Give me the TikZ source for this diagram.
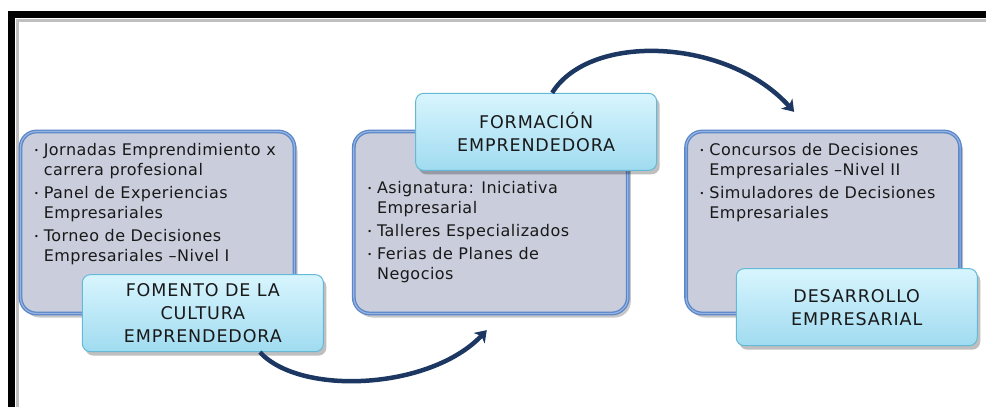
\documentclass[tikz,border=0pt]{standalone}
\usepackage{fontspec}
\setmainfont{DejaVu Sans}
\newfontfamily\listfont{DejaVu Sans}[LetterSpace=3]
\newfontfamily\headfont{DejaVu Sans}[LetterSpace=5]
\usepackage{xcolor}
\usetikzlibrary{positioning,shadows,arrows.meta}

\definecolor{areafill}{RGB}{202,206,220}
\definecolor{areaedge}{RGB}{90,134,200}
\definecolor{areainner}{RGB}{150,180,225}
\definecolor{titletop}{RGB}{216,245,254}
\definecolor{titlebot}{RGB}{160,219,240}
\definecolor{titleedge}{RGB}{100,185,215}
\definecolor{flowblue}{RGB}{28,55,98}

\newcommand{\itm}{\raisebox{1.8pt}{\fontsize{8}{8}\selectfont\textbullet}}

\begin{document}
\begin{tikzpicture}[x=1pt, y=-1pt,
    area/.style={rectangle, rounded corners=16pt, minimum width=274pt, minimum height=182pt, fill=areafill, draw=areaedge, line width=1.3pt, double=areainner, double distance=1.2pt, drop shadow={shadow xshift=3pt, shadow yshift=-4pt, fill=black, opacity=0.22}},
    title/.style={rectangle, rounded corners=8pt, minimum width=241pt, minimum height=77pt, top color=titletop, bottom color=titlebot, draw=titleedge, line width=1pt, align=center, text=black!90, font=\headfont\fontsize{17.5}{23}\selectfont, drop shadow={shadow xshift=3pt, shadow yshift=-4pt, fill=black, opacity=0.25}},
    items/.style={inner sep=0pt, anchor=north west, text=black!90, font=\listfont\fontsize{16}{20}\selectfont},
    flow/.style={line width=4.5pt, draw=flowblue, -{Stealth[length=11pt, width=15pt, inset=3pt]}}]
    \useasboundingbox (0,0) rectangle (986,407);

    % Frame
    \draw[black!25, line width=3pt] (986,20) -- (17,20) -- (17,407);
    \draw[line width=7pt] (986,14.5) -- (11.5,14.5) -- (11.5,407);

    % Areas
    \node[area] (fom) at (157.5,222.5) {};
    \node[area, right=58pt of fom] (form) {};
    \node[area, right=57pt of form] (des) {};

    % Lists
    \node[items] (fomlist) at ([xshift=14pt,yshift=-10pt]fom.north west) {\begin{tabular}{@{}l@{\hspace{5pt}}l@{}}
        \itm & Jornadas Emprendimiento x\\
             & carrera profesional\\[3pt]
        \itm & Panel de Experiencias\\
             & Empresariales\\[3pt]
        \itm & Torneo de Decisiones\\
             & Empresariales –Nivel I
        \end{tabular}};
    \node[items] (formlist) at ([xshift=14pt,yshift=-48pt]form.north west) {\begin{tabular}{@{}l@{\hspace{5pt}}l@{}}
        \itm & Asignatura: Iniciativa\\
             & Empresarial\\[3pt]
        \itm & Talleres Especializados\\[3pt]
        \itm & Ferias de Planes de\\
             & Negocios
        \end{tabular}};
    \node[items] (deslist) at ([xshift=14pt,yshift=-10pt]des.north west) {\begin{tabular}{@{}l@{\hspace{5pt}}l@{}}
        \itm & Concursos de Decisiones\\
             & Empresariales –Nivel II\\[3pt]
        \itm & Simuladores de Decisiones\\
             & Empresariales
        \end{tabular}};

    % Titles
    \node[title, anchor=south west] (fomlbl) at ([xshift=62pt,yshift=-38pt]fom.south west) {FOMENTO DE LA\\CULTURA\\EMPRENDEDORA};
    \node[title, anchor=north west] (formlbl) at ([xshift=62pt,yshift=38pt]form.north west) {FORMACIÓN\\EMPRENDEDORA};
    \node[title, anchor=south east] (deslbl) at ([xshift=17pt,yshift=-32pt]des.south east) {DESARROLLO\\EMPRESARIAL};

    % Flow
    \coordinate (tip1) at ([xshift=-4pt,yshift=-16pt]form.south);
    \coordinate (tip2) at ([xshift=-29pt,yshift=19pt]des.north);
    \draw[flow] ([xshift=57pt]fomlbl.south) .. controls (300,396) and (430,390) .. (tip1);
    \draw[flow] ([xshift=16pt]formlbl.north) .. controls (590,32) and (728,38) .. (tip2);

\end{tikzpicture}
\end{document}
